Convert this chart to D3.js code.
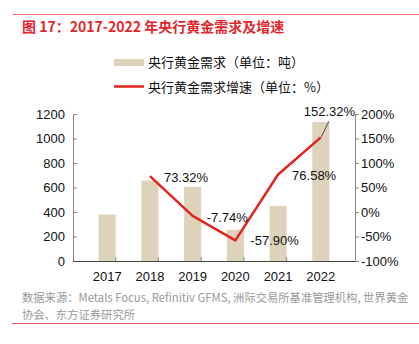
<!DOCTYPE html>
<html lang="zh">
<head>
<meta charset="UTF-8">
<title>2017-2022 年央行黄金需求及增速</title>
<script src="https://d3js.org/d3.v7.min.js"></script>
<style>
  body { margin: 0; background: #fff; }
  text { font-family: "Liberation Sans", Arial, "Noto Sans CJK SC", sans-serif; }
  .cjk { font-family: "Noto Sans CJK SC", sans-serif; }
</style>
</head>
<body>
<svg width="419" height="344"></svg>
<script>
const years = ["2017", "2018", "2019", "2020", "2021", "2022"];
const demand = [379, 656, 605, 255, 450, 1136];
const growth = [null, 73.32, -7.74, -57.90, 76.58, 152.32];
const leftTicks = [0, 200, 400, 600, 800, 1000, 1200];
const rightTicks = [-100, -50, 0, 50, 100, 150, 200];

const svg = d3.select("svg");
const mLeft = 73, mRight = 355, mTop = 114, mBottom = 261;

const x = d3.scaleBand().domain(years).range([mLeft, mRight]).padding(0.6);
const yL = d3.scaleLinear().domain([0, 1200]).range([mBottom, mTop]);
const yR = d3.scaleLinear().domain([-100, 200]).range([mBottom, mTop]);

// header rule and title
svg.append("line").attr("x1", 13).attr("x2", 419).attr("y1", 14.5).attr("y2", 14.5)
  .attr("stroke", "#ee6a6a").attr("stroke-width", 1);
svg.append("text").attr("class", "cjk").attr("x", 22).attr("y", 32)
  .attr("fill", "#e3262b").attr("font-size", 14).attr("font-weight", "bold")
  .text("图 17：2017-2022 年央行黄金需求及增速");

// bars
svg.append("g").selectAll("rect").data(years).join("rect")
  .attr("x", d => x(d)).attr("width", x.bandwidth())
  .attr("y", (d, i) => yL(demand[i])).attr("height", (d, i) => mBottom - yL(demand[i]))
  .attr("fill", "#ddd3bb");

// axes
const axisColor = "#888";
const gL = svg.append("g").attr("transform", `translate(${mLeft},0)`)
  .call(d3.axisRight(yL).tickValues(leftTicks).tickSize(4).tickFormat(""));
const gR = svg.append("g").attr("transform", `translate(${mRight},0)`)
  .call(d3.axisRight(yR).tickValues(rightTicks).tickSize(4).tickFormat(""));
[gL, gR].forEach(g => {
  g.select(".domain").attr("stroke", axisColor).attr("d", `M0.5,${mTop}V${mBottom}`);
  g.selectAll(".tick line").attr("stroke", axisColor);
});
svg.append("g").selectAll("text").data(leftTicks).join("text")
  .attr("x", mLeft - 8).attr("y", d => yL(d)).attr("dy", "0.35em")
  .attr("text-anchor", "end").attr("font-size", 13).attr("fill", "#111").text(d => d);
svg.append("g").selectAll("text").data(rightTicks).join("text")
  .attr("x", mRight + 6).attr("y", d => yR(d)).attr("dy", "0.35em")
  .attr("font-size", 13).attr("fill", "#111").text(d => d + "%");

// bottom axis
const bandStep = x.step();
const gB = svg.append("g").attr("transform", `translate(0,${mBottom})`);
gB.append("line").attr("x1", mLeft).attr("x2", mRight + 0.5).attr("y1", 0.5).attr("y2", 0.5)
  .attr("stroke", "#444");
gB.selectAll("line.tk").data(d3.range(1, years.length)).join("line").attr("class", "tk")
  .attr("x1", i => mLeft + i * bandStep).attr("x2", i => mLeft + i * bandStep)
  .attr("y1", 0).attr("y2", -4).attr("stroke", axisColor);
gB.selectAll("text").data(years).join("text")
  .attr("x", d => x(d) + x.bandwidth() / 2).attr("y", 20)
  .attr("text-anchor", "middle").attr("font-size", 13).attr("fill", "#111").text(d => d);

// growth line
const pts = years.map((d, i) => ({ year: d, v: growth[i] })).filter(p => p.v !== null);
const cx = d => x(d.year) + x.bandwidth() / 2;
svg.append("path").datum(pts)
  .attr("d", d3.line().x(cx).y(d => yR(d.v)))
  .attr("fill", "none").attr("stroke", "#e3231f").attr("stroke-width", 2.5)
  .attr("stroke-linejoin", "round");

// data labels (offset from each point: 2018 .. 2022)
const labelPos = [
  { dx: 14, dy: 1 },
  { dx: 14, dy: 2 },
  { dx: 15, dy: 0 },
  { dx: 14, dy: 1 },
  { dx: -17, dy: -26 }
];
svg.append("g").selectAll("text").data(pts).join("text")
  .attr("x", (d, i) => cx(d) + labelPos[i].dx)
  .attr("y", (d, i) => yR(d.v) + labelPos[i].dy)
  .attr("dy", "0.35em")
  .attr("font-size", 13).attr("fill", "#111")
  .text(d => d.v.toFixed(2) + "%");
const last = pts[pts.length - 1];
svg.append("line").attr("x1", cx(last) + 0.5).attr("y1", yR(last.v) - 0.5)
  .attr("x2", cx(last) + 8).attr("y2", yR(last.v) - 16)
  .attr("stroke", "#222").attr("stroke-width", 0.8);

// legend
const lg = svg.append("g");
lg.append("rect").attr("x", 114).attr("y", 59).attr("width", 30).attr("height", 7).attr("fill", "#ddd3bb");
lg.append("line").attr("x1", 114).attr("x2", 144).attr("y1", 86.5).attr("y2", 86.5)
  .attr("stroke", "#e3231f").attr("stroke-width", 2.5);
lg.append("text").attr("class", "cjk").attr("x", 148).attr("y", 62.5).attr("dy", "0.35em")
  .attr("font-size", 13).attr("fill", "#111").text("央行黄金需求（单位：吨）");
lg.append("text").attr("class", "cjk").attr("x", 148).attr("y", 87).attr("dy", "0.35em")
  .attr("font-size", 13).attr("fill", "#111").text("央行黄金需求增速（单位：%）");

// source
svg.append("text").attr("class", "cjk").attr("x", 22).attr("y", 301.5)
  .attr("font-size", 11.3).attr("fill", "#999")
  .text("数据来源：Metals Focus, Refinitiv GFMS, 洲际交易所基准管理机构, 世界黄金");
svg.append("text").attr("class", "cjk").attr("x", 22).attr("y", 319)
  .attr("font-size", 11.3).attr("fill", "#999").text("协会、东方证券研究所");
svg.append("line").attr("x1", 12).attr("x2", 419).attr("y1", 323.5).attr("y2", 323.5)
  .attr("stroke", "#e06060").attr("stroke-width", 1);
</script>
</body>
</html>
